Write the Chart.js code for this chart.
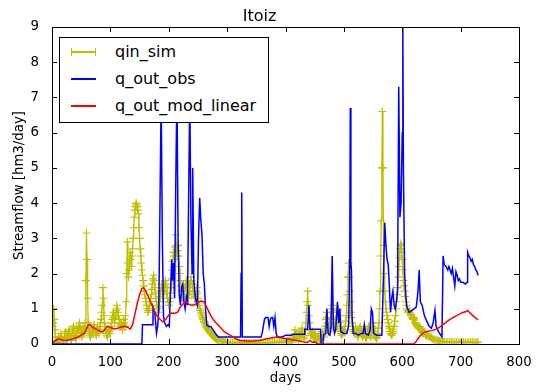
<!DOCTYPE html>
<html>
<head>
<meta charset="utf-8">
<script src="https://cdn.jsdelivr.net/npm/chart.js@4"></script>
<style>
  html, body { margin: 0; padding: 0; background: #fff; }
  #wrap { position: relative; width: 541px; height: 392px; }
  #legend {
    position: absolute; left: 59px; top: 37px; width: 208px; height: 84px;
    border: 1px solid #000; background: #fff;
    font-family: "DejaVu Sans", sans-serif; font-size: 16px; color: #000;
  }
  #legend .row { position: absolute; left: 0; width: 100%; height: 18px; }
  #legend .line { position: absolute; left: 11px; top: 8px; width: 25px; height: 1.5px; }
  #legend .mk { position: absolute; top: 5px; width: 1px; height: 8px; }
  #legend .txt { position: absolute; left: 55px; top: 0; line-height: 18px; white-space: nowrap; }
</style>
</head>
<body>
<div id="wrap">
  <canvas id="chart" width="541" height="392"></canvas>
  <div id="legend">
    <div class="row" style="top:5px">
      <div class="line" style="background:#bfbf00"></div>
      <div class="mk" style="left:11px;background:#bfbf00"></div>
      <div class="mk" style="left:35px;background:#bfbf00"></div>
      <span class="txt">qin_sim</span>
    </div>
    <div class="row" style="top:32px">
      <div class="line" style="background:#0000ff"></div>
      <span class="txt">q_out_obs</span>
    </div>
    <div class="row" style="top:59px">
      <div class="line" style="background:#ff0000"></div>
      <span class="txt">q_out_mod_linear</span>
    </div>
  </div>
</div>
<script>
// [day, hm3/day]
const qinSim = [
  [0,0.2],[1,0.5],[2,0.6],[3,1.0],[4,0.7],[5,0.4],[6,0.2],[7,0.1],[8,0.08],[9,0.05],[10,0.12],[11,0.2],
  [12,0.15],[13,0.1],[14,0.2],[15,0.3],[16,0.2],[17,0.15],[18,0.1],[19,0.05],[20,0.1],[21,0.2],[22,0.3],
  [23,0.35],[24,0.2],[25,0.1],[26,0.15],[27,0.25],[28,0.35],[29,0.4],[30,0.3],[31,0.2],[32,0.15],[33,0.1],
  [34,0.2],[35,0.3],[36,0.45],[37,0.5],[38,0.35],[39,0.25],[40,0.2],[41,0.15],[42,0.3],[43,0.45],[44,0.4],
  [45,0.3],[46,0.45],[47,0.6],[48,0.5],[49,0.35],[50,0.25],[51,0.2],[52,0.35],[53,0.5],[54,0.4],[55,0.3],
  [56,0.45],[57,0.6],[58,1.8],[59,3.15],[60,2.4],[61,1.3],[62,0.6],[63,0.45],[64,0.35],[65,0.25],[66,0.2],
  [67,0.3],[68,0.4],[69,0.35],[70,0.3],[71,0.45],[72,0.55],[73,0.45],[74,0.35],[75,0.3],[76,0.25],[77,0.35],
  [78,0.45],[79,0.4],[80,0.3],[81,0.4],[82,0.5],[83,0.6],[84,0.7],[85,0.9],[86,1.1],[87,1.6],[88,1.3],
  [89,0.8],[90,0.6],[91,0.5],[92,0.4],[93,0.3],[94,0.25],[95,0.2],[96,0.3],[97,0.4],[98,0.35],[99,0.3],
  [100,0.4],[101,0.5],[102,0.6],[103,0.7],[104,0.8],[105,0.9],[106,0.75],[107,0.6],[108,0.7],[109,0.8],
  [110,0.95],[111,1.1],[112,1.0],[113,0.9],[114,0.8],[115,0.7],[116,0.6],[117,0.5],[118,0.55],[119,0.6],
  [120,0.5],[121,0.4],[122,0.55],[123,0.7],[124,0.6],[125,0.5],[126,0.8],[127,1.2],[128,2.0],[129,2.9],
  [130,2.3],[131,1.9],[132,2.1],[133,2.4],[134,2.6],[135,2.4],[136,2.2],[137,2.5],[138,2.7],[139,3.0],
  [140,3.3],[141,3.6],[142,3.8],[143,3.9],[144,4.0],[145,3.95],[146,3.9],[147,3.8],[148,3.7],[149,3.3],
  [150,3.0],[151,2.7],[152,2.5],[153,2.3],[154,2.1],[155,1.95],[156,1.8],[157,1.65],[158,1.5],[159,1.4],
  [160,1.3],[161,1.2],[162,1.1],[163,1.0],[164,0.9],[165,0.95],[166,1.0],[167,1.1],[168,1.2],[169,1.3],
  [170,1.4],[171,1.55],[172,1.7],[173,1.85],[174,1.95],[175,1.8],[176,1.6],[177,1.45],[178,1.3],[179,1.2],
  [180,1.1],[181,1.0],[182,0.9],[183,1.05],[184,1.2],[185,1.35],[186,1.5],[187,1.6],[188,1.7],[189,1.5],
  [190,1.3],[191,1.4],[192,1.5],[193,1.65],[194,1.8],[195,1.7],[196,1.6],[197,1.45],[198,1.3],[199,1.2],
  [200,1.1],[201,1.2],[202,1.3],[203,1.45],[204,1.6],[205,1.85],[206,2.1],[207,2.35],[208,2.6],[209,2.5],
  [210,2.4],[211,2.75],[212,3.1],[213,2.8],[214,2.5],[215,2.65],[216,2.8],[217,2.5],[218,2.2],[219,2.0],
  [220,1.8],[221,1.65],[222,1.5],[223,1.4],[224,1.3],[225,1.35],[226,1.4],[227,1.5],[228,1.6],[229,1.7],
  [230,1.8],[231,1.65],[232,1.5],[233,1.4],[234,1.3],[235,1.45],[236,1.6],[237,1.75],[238,1.9],[239,1.8],
  [240,1.7],[241,1.6],[242,1.5],[243,1.4],[244,1.3],[245,1.35],[246,1.4],[247,1.5],[248,1.6],[249,1.45],
  [250,1.3],[251,1.2],[252,1.1],[253,1.0],[254,0.95],[255,0.9],[256,0.85],[257,0.8],[258,0.75],[259,0.7],
  [260,0.65],[261,0.62],[262,0.6],[263,0.55],[264,0.5],[265,0.48],[266,0.45],[267,0.42],[268,0.4],[269,0.37],
  [270,0.35],[271,0.32],[272,0.3],[273,0.28],[274,0.27],[275,0.25],[276,0.23],[277,0.22],[278,0.2],[279,0.18],
  [280,0.17],[281,0.15],[282,0.14],[283,0.13],[284,0.12],[286,0.11],[288,0.1],[290,0.09],[292,0.08],[294,0.07],
  [296,0.06],[298,0.055],[300,0.05],[303,0.045],[306,0.04],[309,0.035],[312,0.03],[315,0.035],[318,0.04],
  [321,0.035],[324,0.03],[327,0.025],[330,0.02],[333,0.025],[336,0.03],[339,0.025],[342,0.02],[345,0.025],
  [348,0.03],[351,0.025],[354,0.02],[357,0.025],[360,0.03],[363,0.035],[366,0.04],[369,0.035],[372,0.03],
  [375,0.04],[378,0.05],[381,0.045],[384,0.04],[387,0.05],[390,0.06],[393,0.055],[396,0.05],[399,0.06],
  [402,0.08],[404,0.09],[406,0.1],[408,0.08],[410,0.06],[412,0.12],[413,0.15],[414,0.2],[415,0.3],[416,0.4],
  [417,0.25],[418,0.15],[419,0.2],[420,0.3],[421,0.2],[422,0.1],[423,0.2],[424,0.35],[425,0.3],[426,0.2],
  [427,0.3],[428,0.45],[429,0.35],[430,0.25],[431,0.2],[432,0.15],[433,0.25],[434,0.4],[435,0.6],[436,0.9],
  [437,1.2],[438,1.5],[439,1.1],[440,0.8],[441,0.6],[442,0.4],[443,0.3],[444,0.25],[445,0.3],[446,0.35],
  [447,0.25],[448,0.15],[449,0.2],[450,0.3],[451,0.25],[452,0.2],[453,0.15],[454,0.1],[455,0.15],[456,0.25],
  [457,0.2],[458,0.15],[459,0.12],[460,0.1],[461,0.15],[462,0.2],[463,0.3],[464,0.35],[465,0.25],[466,0.2],
  [467,0.35],[468,0.5],[469,0.7],[470,0.9],[471,0.75],[472,0.6],[473,0.45],[474,0.35],[475,0.45],[476,0.6],
  [477,0.75],[478,0.9],[479,1.0],[480,1.1],[481,0.9],[482,0.7],[483,0.55],[484,0.4],[485,0.5],[486,0.6],
  [487,0.75],[488,0.9],[489,0.95],[490,1.0],[491,0.8],[492,0.6],[493,0.45],[494,0.35],[495,0.3],[496,0.25],
  [497,0.3],[498,0.4],[499,0.35],[500,0.3],[501,0.4],[502,0.5],[503,0.65],[504,0.8],[505,1.1],[506,1.4],
  [507,1.9],[508,2.3],[509,1.9],[510,1.5],[511,1.2],[512,0.9],[513,0.75],[514,0.6],[515,0.5],[516,0.4],
  [517,0.35],[518,0.3],[519,0.4],[520,0.45],[521,0.35],[522,0.3],[523,0.25],[524,0.2],[525,0.3],[526,0.35],
  [527,0.45],[528,0.5],[529,0.4],[530,0.3],[531,0.25],[532,0.2],[533,0.3],[534,0.4],[535,0.35],[536,0.3],
  [537,0.2],[538,0.15],[539,0.2],[540,0.3],[541,0.4],[542,0.5],[543,0.45],[544,0.35],[545,0.25],[546,0.2],
  [547,0.3],[548,0.4],[549,0.5],[550,0.6],[551,0.45],[552,0.35],[553,0.25],[554,0.2],[555,0.18],[556,0.15],
  [557,0.2],[558,0.3],[559,0.45],[560,0.6],[561,1.0],[562,1.5],[563,2.5],[564,3.5],[565,5.0],[566,6.6],
  [567,5.0],[568,2.8],[569,2.0],[570,1.5],[571,1.2],[572,1.0],[573,0.9],[574,0.8],[575,0.7],[576,0.6],
  [577,0.5],[578,0.45],[579,0.35],[580,0.3],[581,0.28],[582,0.25],[583,0.3],[584,0.35],[585,0.42],[586,0.5],
  [587,0.65],[588,0.8],[589,1.0],[590,1.2],[591,1.4],[592,1.6],[593,1.9],[594,2.2],[595,2.45],[596,2.7],
  [597,2.8],[598,2.85],[599,2.6],[600,2.4],[601,2.1],[602,1.8],[603,1.65],[604,1.5],[605,1.35],[606,1.2],
  [607,1.1],[608,1.0],[609,0.95],[610,0.9],[611,0.92],[612,0.95],[613,0.9],[614,0.85],[615,0.82],[616,0.8],
  [617,0.75],[618,0.7],[619,0.72],[620,0.75],[621,0.68],[622,0.6],[623,0.58],[624,0.55],[625,0.52],[626,0.5],
  [627,0.48],[628,0.45],[629,0.48],[630,0.5],[631,0.45],[632,0.4],[633,0.38],[634,0.35],[635,0.32],[636,0.3],
  [637,0.32],[638,0.35],[639,0.3],[640,0.25],[642,0.24],[644,0.22],[646,0.21],[648,0.2],[650,0.18],[652,0.15],
  [654,0.13],[656,0.12],[658,0.11],[660,0.1],[662,0.09],[664,0.08],[666,0.075],[668,0.07],[670,0.065],
  [672,0.06],[675,0.055],[678,0.05],[681,0.055],[684,0.06],[687,0.05],[690,0.04],[693,0.045],[696,0.05],
  [699,0.055],[702,0.06],[705,0.05],[708,0.04],[711,0.045],[714,0.05],[717,0.055],[720,0.06],[723,0.05],
  [726,0.04],[728,0.045],[730,0.05]
];

const qOutObs = [
  [0,0],[154,0],[155,0.55],[172,0.55],[173,1.05],[176,0.9],[179,0.3],[181,0.5],[183,1.0],[185,4.0],
  [187,7.0],[189,3.0],[191,0.8],[193,0.6],[196,0.5],[199,0.55],[201,0.5],[203,1.5],[205,2.4],[206,1.8],
  [208,2.3],[210,1.3],[212,4.5],[214,7.2],[216,3.0],[218,1.4],[220,1.1],[222,1.6],[224,1.7],[226,1.2],
  [228,1.0],[230,1.3],[232,1.1],[234,4.0],[236,7.0],[238,3.5],[240,2.0],[241,5.0],[243,1.8],[245,1.4],
  [247,1.2],[249,1.1],[251,3.0],[253,4.15],[255,3.5],[257,3.1],[259,2.0],[261,1.7],[263,1.0],[265,0.55],
  [268,0.5],[272,0.5],[276,0.4],[280,0.3],[285,0.2],[300,0.2],[323,0.2],[324,2.0],[325,4.3],[326,0.2],
  [358,0.2],[360,0.3],[362,0.5],[364,0.7],[366,0.75],[370,0.75],[372,0.5],[374,0.7],[376,0.75],[378,0.75],
  [380,0.5],[382,0.75],[384,0.3],[386,0.2],[395,0.2],[400,0.25],[410,0.25],[415,0.28],[432,0.28],[433,0.42],
  [438,0.42],[440,1.1],[442,0.42],[460,0.42],[461,0],[464,0],[465,0.25],[469,0.3],[471,1.0],[473,0.3],
  [476,0.25],[478,0.5],[480,2.5],[482,0.5],[484,0.3],[486,0.4],[489,1.2],[491,0.6],[493,1.0],[495,0.35],
  [500,0.3],[505,0.3],[508,0.5],[510,2.0],[511,6.7],[512,2.3],[513,2.1],[514,0.8],[516,0.3],[520,0.3],
  [525,0.25],[530,0.3],[533,0.3],[535,0.55],[537,0.3],[542,0.25],[545,0.4],[547,1.0],[549,0.9],[551,0.3],
  [556,0.25],[565,0.25],[568,2.0],[570,3.45],[572,2.8],[574,2.4],[576,2.25],[578,1.6],[580,0.9],[582,1.3],
  [584,1.5],[586,1.1],[588,1.0],[590,1.2],[592,1.5],[594,7.3],[596,3.6],[598,4.0],[600,6.0],[601,9.0],
  [602,5.0],[604,2.0],[606,1.4],[608,1.05],[612,0.9],[616,0.95],[620,1.0],[624,1.05],[627,1.5],[629,2.1],
  [631,1.2],[634,1.1],[638,0.8],[642,0.65],[646,0.5],[650,0.45],[653,0.6],[656,0.95],[658,0.5],[662,0.35],
  [666,0.25],[668,0.2],[670,2.5],[672,2.25],[675,2.2],[678,2.1],[680,2.2],[682,2.1],[684,2.0],[686,2.15],
  [688,1.9],[690,1.65],[692,2.05],[694,1.95],[696,1.8],[698,1.85],[700,1.75],[704,1.75],[708,1.7],[711,1.75],
  [712,2.6],[714,2.5],[716,2.45],[718,2.35],[720,2.4],[722,2.25],[724,2.2],[726,2.1],[728,2.05],[730,1.95]
];

const qOutModLinear = [
  [0,0],[5,0.08],[10,0.14],[15,0.13],[20,0.11],[25,0.1],[30,0.12],[35,0.14],[40,0.17],[45,0.2],[50,0.25],
  [55,0.3],[58,0.38],[62,0.55],[65,0.55],[68,0.5],[72,0.45],[76,0.42],[80,0.38],[84,0.35],[88,0.35],
  [92,0.45],[95,0.5],[100,0.47],[105,0.44],[110,0.43],[115,0.46],[120,0.49],[125,0.5],[130,0.47],[134,0.42],
  [138,0.55],[142,0.85],[146,1.15],[150,1.4],[154,1.58],[157,1.6],[160,1.52],[165,1.35],[170,1.15],[175,0.95],
  [180,0.8],[185,0.7],[190,0.63],[195,0.7],[200,0.82],[205,0.88],[210,0.87],[215,0.9],[220,1.05],[225,1.15],
  [230,1.2],[235,1.12],[240,1.1],[245,1.12],[250,1.18],[255,1.22],[260,1.2],[265,1.05],[270,0.87],[275,0.72],
  [280,0.62],[287,0.5],[295,0.35],[305,0.25],[315,0.15],[322,0.1],[340,0.08],[355,0.1],[368,0.15],[385,0.2],
  [402,0.15],[419,0.1],[430,0.06],[437,0.04],[442,0.1],[446,0.05],[450,0.06],[455,0.01],[460,0],[620,0],
  [625,0.1],[630,0.22],[635,0.3],[640,0.35],[650,0.38],[660,0.43],[670,0.55],[680,0.68],[690,0.78],[700,0.87],
  [705,0.9],[710,0.92],[712,0.95],[720,0.82],[730,0.68]
];

const xTicks = [0, 100, 200, 300, 400, 500, 600, 700, 800];
const yTicks = [0, 1, 2, 3, 4, 5, 6, 7, 8, 9];

const toXY = rows => rows.map(([x, y]) => ({ x, y }));
const font = { family: 'DejaVu Sans', size: 13.3 };

// matplotlib-style frame with inward ticks on all four sides
const frameTicks = {
  id: 'frameTicks',
  afterDatasetsDraw(chart) {
    const { ctx, chartArea: a, scales } = chart;
    const len = 5;
    ctx.save();
    ctx.strokeStyle = '#000';
    ctx.lineWidth = 1;
    ctx.beginPath();
    scales.x.ticks.forEach(t => {
      const px = Math.round(scales.x.getPixelForValue(t.value)) + 0.5;
      ctx.moveTo(px, a.bottom); ctx.lineTo(px, a.bottom - len);
      ctx.moveTo(px, a.top); ctx.lineTo(px, a.top + len);
    });
    scales.y.ticks.forEach(t => {
      const py = Math.round(scales.y.getPixelForValue(t.value)) + 0.5;
      ctx.moveTo(a.left, py); ctx.lineTo(a.left + len, py);
      ctx.moveTo(a.right, py); ctx.lineTo(a.right - len, py);
    });
    ctx.stroke();
    ctx.strokeRect(Math.round(a.left) + 0.5, Math.round(a.top) + 0.5,
      Math.round(a.right - a.left), Math.round(a.bottom - a.top));
    ctx.restore();
  }
};

new Chart(document.getElementById('chart'), {
  type: 'line',
  data: {
    datasets: [
      {
        label: 'qin_sim', data: toXY(qinSim), order: 3,
        borderColor: '#bfbf00', backgroundColor: '#bfbf00', borderWidth: 1.3,
        pointStyle: 'cross', pointRadius: 4, pointBorderWidth: 1.1, pointBorderColor: '#bfbf00',
      },
      {
        label: 'q_out_obs', data: toXY(qOutObs), order: 2,
        borderColor: '#0000ff', borderWidth: 1.5, pointRadius: 0,
      },
      {
        label: 'q_out_mod_linear', data: toXY(qOutModLinear), order: 1,
        borderColor: '#ff0000', borderWidth: 1.5, pointRadius: 0,
      },
    ],
  },
  options: {
    responsive: false,
    animation: false,
    events: [],
    layout: { padding: { left: 0, right: 22, top: 0, bottom: 0 } },
    elements: { line: { tension: 0 } },
    plugins: {
      legend: { display: false },
      tooltip: { enabled: false },
      title: {
        display: true, text: 'Itoiz', color: '#000',
        font: { family: 'DejaVu Sans', size: 16, weight: 'normal', lineHeight: 1.125 },
        padding: { top: 8, bottom: 1 },
      },
    },
    scales: {
      x: {
        type: 'linear', min: 0, max: 800,
        afterBuildTicks: s => { s.ticks = xTicks.map(v => ({ value: v })); },
        afterFit: s => { s.height = 48; },
        grid: { display: false }, border: { display: false },
        ticks: { color: '#000', font, padding: 3, maxRotation: 0 },
        title: { display: true, text: 'days', color: '#000', font, padding: { top: 0, bottom: 5 } },
      },
      y: {
        type: 'linear', min: 0, max: 9,
        afterBuildTicks: s => { s.ticks = yTicks.map(v => ({ value: v })); },
        afterFit: s => { s.width = 52; },
        grid: { display: false }, border: { display: false },
        ticks: { color: '#000', font, padding: 5 },
        title: { display: true, text: 'Streamflow [hm3/day]', color: '#000', font, padding: { top: 12, bottom: 0 } },
      },
    },
  },
  plugins: [frameTicks],
});
</script>
</body>
</html>
